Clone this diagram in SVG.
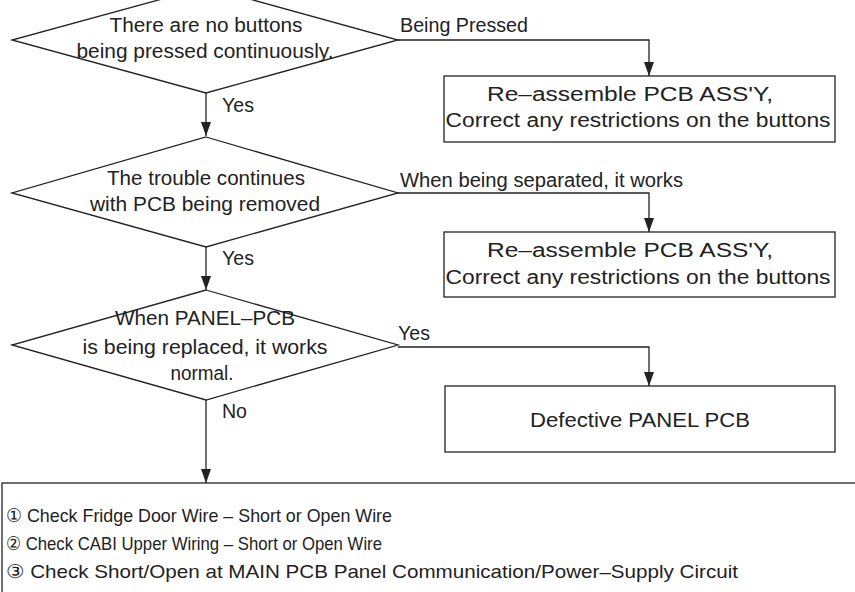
<svg xmlns="http://www.w3.org/2000/svg" width="855" height="592" viewBox="0 0 855 592">
<style>
.s{fill:#fff;stroke:#222;stroke-width:1.3}
.c{fill:none;stroke:#222;stroke-width:1.3;marker-end:url(#ah)}
.l{fill:none;stroke:#222;stroke-width:1.3}
text{font-family:"Liberation Sans",Arial,sans-serif;font-size:20px;fill:#222}
.m{text-anchor:middle}
.b{font-size:19px}
</style>
<defs>
<marker id="ah" markerWidth="14" markerHeight="10" refX="14" refY="5" orient="auto" markerUnits="userSpaceOnUse" viewBox="0 0 14 10">
<path d="M0,0 L14,5 L0,10 Z" fill="#222"/>
</marker>
</defs>
<g id="connectors">
<path class="c" d="M398,40 H649 V76"/>
<path class="c" d="M206,93 V136"/>
<path class="c" d="M398,193 H649 V232"/>
<path class="c" d="M206,247 V290"/>
<path class="c" d="M398,347 H649 V386"/>
<path class="c" d="M206,400 V483"/>
<text x="400" y="32" textLength="128" lengthAdjust="spacingAndGlyphs">Being Pressed</text>
<text x="222" y="112" textLength="32" lengthAdjust="spacingAndGlyphs">Yes</text>
<text x="400" y="187" textLength="283" lengthAdjust="spacingAndGlyphs">When being separated, it works</text>
<text x="222" y="265" textLength="32" lengthAdjust="spacingAndGlyphs">Yes</text>
<text x="398" y="340" textLength="32" lengthAdjust="spacingAndGlyphs">Yes</text>
<text x="222" y="418" textLength="25" lengthAdjust="spacingAndGlyphs">No</text>
</g>
<g id="d1">
<path class="s" d="M206,-13 L398,40 L206,93 L12,40 Z"/>
<text class="m" x="206" y="32" textLength="193" lengthAdjust="spacingAndGlyphs">There are no buttons</text>
<text class="m" x="205" y="58" textLength="257" lengthAdjust="spacingAndGlyphs">being pressed continuously.</text>
</g>
<g id="b1">
<rect class="s" x="444" y="76" width="391" height="66"/>
<text class="m" x="630" y="101" textLength="286" lengthAdjust="spacingAndGlyphs">Re–assemble PCB ASS'Y,</text>
<text class="m" x="638" y="127" textLength="385" lengthAdjust="spacingAndGlyphs">Correct any restrictions on the buttons</text>
</g>
<g id="d2">
<path class="s" d="M206,137 L398,193 L206,247 L12,193 Z"/>
<text class="m" x="206" y="185" textLength="198" lengthAdjust="spacingAndGlyphs">The trouble continues</text>
<text class="m" x="205" y="211" textLength="230" lengthAdjust="spacingAndGlyphs">with PCB being removed</text>
</g>
<g id="b2">
<rect class="s" x="444" y="232" width="391" height="65"/>
<text class="m" x="630" y="257" textLength="286" lengthAdjust="spacingAndGlyphs">Re–assemble PCB ASS'Y,</text>
<text class="m" x="638" y="284" textLength="385" lengthAdjust="spacingAndGlyphs">Correct any restrictions on the buttons</text>
</g>
<g id="d3">
<path class="s" d="M206,290 L398,345 L206,400 L12,345 Z"/>
<text class="m" x="205" y="325" textLength="180" lengthAdjust="spacingAndGlyphs">When PANEL–PCB</text>
<text class="m" x="205" y="354" textLength="245" lengthAdjust="spacingAndGlyphs">is being replaced, it works</text>
<text class="m" x="202" y="380" textLength="63" lengthAdjust="spacingAndGlyphs">normal.</text>
</g>
<g id="b3">
<rect class="s" x="445" y="386" width="390" height="66"/>
<text class="m" x="640" y="427" textLength="220" lengthAdjust="spacingAndGlyphs">Defective PANEL PCB</text>
</g>
<g id="b4">
<rect class="s" x="2" y="483" width="870" height="130"/>
<text class="b" x="6" y="522" textLength="386" lengthAdjust="spacingAndGlyphs">① Check Fridge Door Wire – Short or Open Wire</text>
<text class="b" x="6" y="550" textLength="376" lengthAdjust="spacingAndGlyphs">② Check CABI Upper Wiring – Short or Open Wire</text>
<text class="b" x="6" y="578" textLength="732" lengthAdjust="spacingAndGlyphs">③ Check Short/Open at MAIN PCB Panel Communication/Power–Supply Circuit</text>
</g>
</svg>
